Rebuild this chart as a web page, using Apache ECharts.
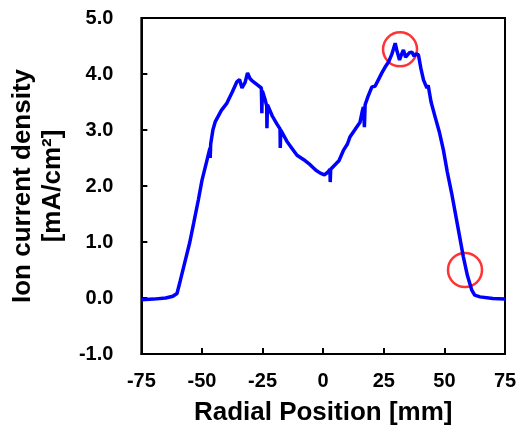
<!DOCTYPE html>
<html lang="en">
<head>
    <meta charset="UTF-8">
    <title>Ion current density</title>
    <script src="https://cdn.jsdelivr.net/npm/echarts@6/dist/echarts.min.js"></script>
    <style>
        *{margin:0;padding:0;}
        html,body{width:100%;height:100%;overflow:hidden;background:#fff;}
        .container{width:528px;height:434px;}
    </style>
</head>
<body>
<div class="container"></div>
<script>
    // radial position [mm] and ion current density [mA/cm2]
    const xs = [-75,-70,-65,-62,-60.3,-59,-57,-55,-53.4,-51.5,-50,-48,-46.7,-46.6,-46.4,-45.5,-44.5,-42,-39.7,-37.5,
        -35.6,-34.5,-33.5,-32.2,-31.2,-30.2,-29.4,-27,-25.5,-25.3,-25.1,-24,-23.3,-23.2,-23.0,-21,-19,-17.8,-17.7,-17.5,
        -15,-13,-10.8,-8,-5.4,-3,-1.2,0.5,2,2.8,2.9,3.1,4.9,6.5,8.4,10,11.1,13,15.2,16.2,16.6,17.0,17.3,18.5,20.1,
        21.4,22.8,24.2,25.5,27.0,28.3,29.7,30.5,31.5,32.3,33.1,34,34.8,35.6,36.6,37.5,38.3,39.3,40.3,41.4,42.8,43.3,
        44.5,46.2,48,49.6,51.2,53.0,55,57.8,59.5,61.3,62.5,64.7,70,75];
    const ys = [-0.03,-0.02,0.0,0.03,0.08,0.3,0.65,1.0,1.34,1.75,2.1,2.45,2.68,2.5,2.75,3.0,3.15,3.35,3.48,3.68,
        3.86,3.9,3.75,3.85,4.02,3.92,3.88,3.8,3.75,3.3,3.7,3.55,3.43,3.03,3.45,3.25,3.1,3.02,2.68,3.0,
        2.8,2.68,2.55,2.47,2.38,2.28,2.23,2.2,2.25,2.3,2.07,2.3,2.38,2.45,2.64,2.75,2.88,3.0,3.14,3.35,3.41,3.05,3.45,3.6,3.77,
        3.78,3.9,4.02,4.12,4.22,4.35,4.55,4.4,4.25,4.35,4.43,4.3,4.29,4.38,4.39,4.32,4.36,4.34,4.1,3.89,3.75,3.8,
        3.5,3.23,2.95,2.64,2.25,1.87,1.4,0.74,0.4,0.14,0.05,0.02,-0.01,-0.02];
    // highlighted spots (red circles)
    const circleX = [31.7, 58.5];
    const circleY = [4.44, 0.5];

    const font = "'Liberation Sans', Arial, sans-serif";

    window.onload = function () {
        let chart = echarts.init(document.querySelector('.container'));
        let line = xs.map((x, i) => [x, ys[i]]);
        let circles = circleX.map((x, i) => [x, circleY[i]]);

        let options = {
            animation: false,
            grid: {
                left: 141, right: 23, top: 18, bottom: 80,
                show: true, borderColor: '#000', borderWidth: 2
            },
            xAxis: {
                type: 'value',
                min: -75, max: 75, interval: 25,
                name: 'Radial Position [mm]',
                nameLocation: 'middle',
                nameGap: 46,
                nameTextStyle: {fontFamily: font, fontWeight: 'bold', fontSize: 26, color: '#000'},
                axisLine: {onZero: false, lineStyle: {color: '#000', width: 2}},
                axisTick: {inside: true, length: 6, lineStyle: {color: '#000', width: 2}},
                axisLabel: {fontFamily: font, fontWeight: 'bold', fontSize: 20, color: '#000', margin: 17},
                splitLine: {show: false}
            },
            yAxis: {
                type: 'value',
                min: -1, max: 5, interval: 1,
                name: 'Ion current density\n[mA/cm²]',
                nameLocation: 'middle',
                nameRotate: 90,
                nameGap: 73,
                nameTextStyle: {fontFamily: font, fontWeight: 'bold', fontSize: 26, color: '#000', lineHeight: 30},
                axisLine: {onZero: false, lineStyle: {color: '#000', width: 2}},
                axisTick: {inside: true, length: 6, lineStyle: {color: '#000', width: 2}},
                axisLabel: {
                    fontFamily: font, fontWeight: 'bold', fontSize: 20, color: '#000', margin: 28,
                    formatter: v => v.toFixed(1)
                },
                splitLine: {show: false}
            },
            series: [
                {
                    type: 'line',
                    data: line,
                    showSymbol: false,
                    lineStyle: {color: '#0000ff', width: 3.5}
                },
                {
                    type: 'scatter',
                    data: circles,
                    symbol: 'circle',
                    symbolSize: 34,
                    itemStyle: {color: 'rgba(0,0,0,0)', borderColor: '#ff0000', borderWidth: 2.5}
                }
            ]
        };
        chart.setOption(options);
    };
</script>
</body>
</html>
